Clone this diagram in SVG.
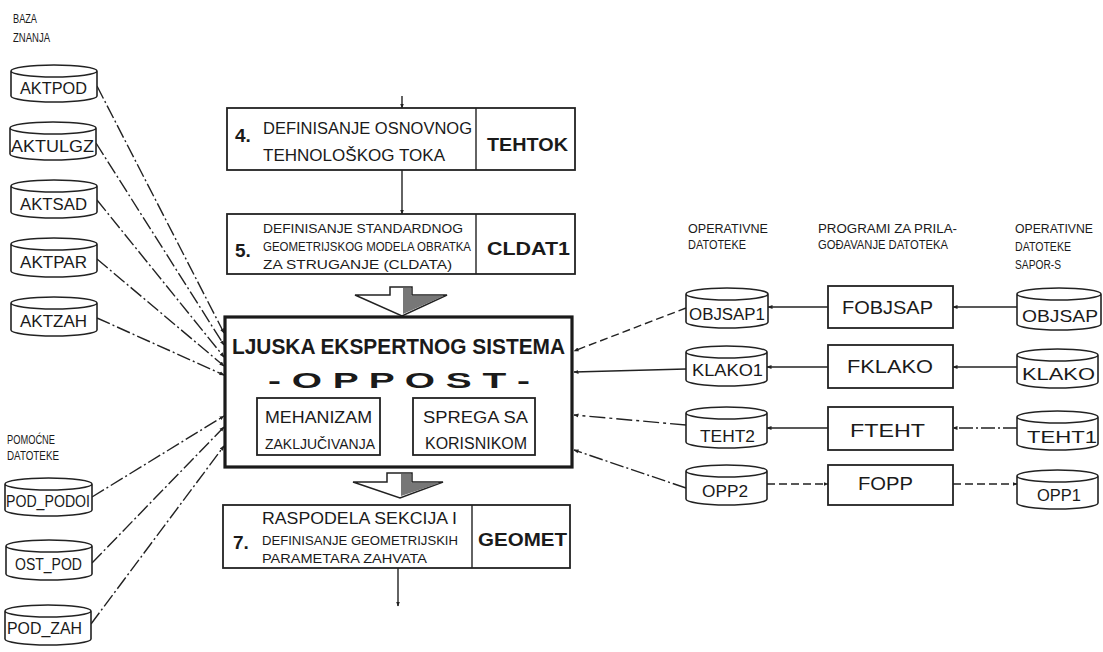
<svg xmlns="http://www.w3.org/2000/svg" width="1103" height="652" viewBox="0 0 1103 652">
<style>
.bg{fill:#fff}
.cyl{fill:#fff;stroke:#222;stroke-width:1.6}
.box{fill:#fff;stroke:#222;stroke-width:1.8}
.main{fill:#fff;stroke:#1a1a1a;stroke-width:3.2}
.t{font-family:"Liberation Sans",Arial,sans-serif;fill:#1a1a1a}
.lbl{font-size:12.5px}
.cl{font-size:17px}
.bt{font-size:16px}
.num{font-size:19px;font-weight:bold}
.code{font-size:18px;font-weight:bold}
.ln{fill:none;stroke:#222;stroke-width:1.4}
.dd{stroke-dasharray:14 3 2 3}
.da{stroke-dasharray:8 4}
.dot{stroke-dasharray:16 4 3 4}
.ar{fill:none;stroke:#222;stroke-width:1.5}
</style>
<defs>
<marker id="ah" viewBox="0 0 10 10" refX="9" refY="5" markerWidth="5" markerHeight="5" orient="auto" markerUnits="userSpaceOnUse">
<path d="M0,1 L10,5 L0,9 Z" fill="#222"/>
</marker>
</defs>
<rect class="bg" x="0" y="0" width="1103" height="652"/>

<!-- section labels -->
<g id="labels">
<text class="t lbl" x="13" y="23" textLength="24" lengthAdjust="spacingAndGlyphs">BAZA</text>
<text class="t lbl" x="13" y="42" textLength="37" lengthAdjust="spacingAndGlyphs">ZNANJA</text>
<text class="t lbl" x="7" y="444" textLength="48" lengthAdjust="spacingAndGlyphs">POMOĆNE</text>
<text class="t lbl" x="7" y="460" textLength="52" lengthAdjust="spacingAndGlyphs">DATOTEKE</text>
<text class="t lbl" x="688" y="233" textLength="80" lengthAdjust="spacingAndGlyphs">OPERATIVNE</text>
<text class="t lbl" x="688" y="249" textLength="58" lengthAdjust="spacingAndGlyphs">DATOTEKE</text>
<text class="t lbl" x="818" y="233" textLength="139" lengthAdjust="spacingAndGlyphs">PROGRAMI ZA PRILA-</text>
<text class="t lbl" x="818" y="249" textLength="130" lengthAdjust="spacingAndGlyphs">GOĐAVANJE DATOTEKA</text>
<text class="t lbl" x="1015" y="233" textLength="78" lengthAdjust="spacingAndGlyphs">OPERATIVNE</text>
<text class="t lbl" x="1015" y="251" textLength="56" lengthAdjust="spacingAndGlyphs">DATOTEKE</text>
<text class="t lbl" x="1015" y="269" textLength="46" lengthAdjust="spacingAndGlyphs">SAPOR-S</text>
</g>

<!-- connectors -->
<g id="connectors">
<line class="ln dd" x1="97" y1="86" x2="224" y2="333" marker-end="url(#ah)"/>
<line class="ln dd" x1="96" y1="143" x2="224" y2="345" marker-end="url(#ah)"/>
<line class="ln dd" x1="97" y1="200" x2="224" y2="357" marker-end="url(#ah)"/>
<line class="ln dd" x1="97" y1="259" x2="224" y2="366" marker-end="url(#ah)"/>
<line class="ln dd" x1="97" y1="318" x2="224" y2="375" marker-end="url(#ah)"/>
<line class="ln dd" x1="92" y1="497" x2="224" y2="416" marker-end="url(#ah)"/>
<line class="ln dd" x1="92" y1="563" x2="224" y2="427" marker-end="url(#ah)"/>
<line class="ln dd" x1="91" y1="624" x2="224" y2="446" marker-end="url(#ah)"/>

<line class="ln da" x1="686" y1="308" x2="574" y2="351" marker-end="url(#ah)"/>
<line class="ln" x1="686" y1="369" x2="574" y2="372" marker-end="url(#ah)"/>
<line class="ln dot" x1="686" y1="425" x2="574" y2="415" marker-end="url(#ah)"/>
<line class="ln dd" x1="686" y1="488" x2="574" y2="450" marker-end="url(#ah)"/>

<line class="ln" x1="828" y1="307" x2="768" y2="307" marker-end="url(#ah)"/>
<line class="ln" x1="1017" y1="307" x2="953" y2="307" marker-end="url(#ah)"/>
<line class="ln" x1="828" y1="367" x2="767" y2="367" marker-end="url(#ah)"/>
<line class="ln" x1="1017" y1="367" x2="953" y2="367" marker-end="url(#ah)"/>
<line class="ln" x1="828" y1="428" x2="767" y2="428" marker-end="url(#ah)"/>
<line class="ln dd" x1="1017" y1="428" x2="953" y2="428" marker-end="url(#ah)"/>
<line class="ln da" x1="767" y1="484" x2="828" y2="484" marker-end="url(#ah)"/>
<line class="ln da" x1="953" y1="484" x2="1017" y2="484" marker-end="url(#ah)"/>

<line class="ln" x1="402" y1="96" x2="402" y2="108" marker-end="url(#ah)"/>
<line class="ln" x1="402" y1="170" x2="402" y2="214" marker-end="url(#ah)"/>
<line class="ln" x1="398" y1="568" x2="398" y2="606" marker-end="url(#ah)"/>

<polygon class="ar" fill="#fff" points="390,287 412,287 412,295 447,295 402,316 355,295 390,295"/>
<polygon fill="#777" points="403,288 411,288 411,296 444,296 403,314"/>
<polygon class="ar" fill="#fff" points="387,473 412,473 412,482 443,482 400,498 353,482 387,482"/>
<polygon fill="#777" points="401,474 411,474 411,483 440,483 401,496"/>
</g>

<!-- left cylinders -->
<g id="aktpod"><path class="cyl" d="M11,71 A43,6 0 0 1 97,71 L97,96 A43,6 0 0 1 11,96 Z M11,71 A43,6 0 0 0 97,71"/><text class="t cl" x="20" y="94" textLength="67" lengthAdjust="spacingAndGlyphs">AKTPOD</text></g>
<g id="aktulgz"><path class="cyl" d="M10,128 A43,6 0 0 1 96,128 L96,154 A43,6 0 0 1 10,154 Z M10,128 A43,6 0 0 0 96,128"/><text class="t cl" x="11" y="152" textLength="83" lengthAdjust="spacingAndGlyphs">AKTULGZ</text></g>
<g id="aktsad"><path class="cyl" d="M11,186 A43,6 0 0 1 97,186 L97,212 A43,6 0 0 1 11,212 Z M11,186 A43,6 0 0 0 97,186"/><text class="t cl" x="20" y="210" textLength="67" lengthAdjust="spacingAndGlyphs">AKTSAD</text></g>
<g id="aktpar"><path class="cyl" d="M11,244 A43,6 0 0 1 97,244 L97,271 A43,6 0 0 1 11,271 Z M11,244 A43,6 0 0 0 97,244"/><text class="t cl" x="20" y="268" textLength="67" lengthAdjust="spacingAndGlyphs">AKTPAR</text></g>
<g id="aktzah"><path class="cyl" d="M11,303 A43,6 0 0 1 97,303 L97,330 A43,6 0 0 1 11,330 Z M11,303 A43,6 0 0 0 97,303"/><text class="t cl" x="20" y="327" textLength="67" lengthAdjust="spacingAndGlyphs">AKTZAH</text></g>
<g id="pod_podoi"><path class="cyl" d="M5,484 A43.5,6 0 0 1 92,484 L92,510 A43.5,6 0 0 1 5,510 Z M5,484 A43.5,6 0 0 0 92,484"/><text class="t bt" x="6" y="507" textLength="84" lengthAdjust="spacingAndGlyphs">POD_PODOI</text></g>
<g id="ost_pod"><path class="cyl" d="M6,546 A43,6 0 0 1 92,546 L92,574 A43,6 0 0 1 6,574 Z M6,546 A43,6 0 0 0 92,546"/><text class="t bt" x="15" y="570" textLength="67" lengthAdjust="spacingAndGlyphs">OST_POD</text></g>
<g id="pod_zah"><path class="cyl" d="M5,611 A43,6 0 0 1 91,611 L91,639 A43,6 0 0 1 5,639 Z M5,611 A43,6 0 0 0 91,611"/><text class="t bt" x="7" y="634" textLength="75" lengthAdjust="spacingAndGlyphs">POD_ZAH</text></g>

<!-- center column -->
<g id="box4">
<rect class="box" x="227" y="108" width="348" height="62"/>
<line class="ln" x1="476" y1="108" x2="476" y2="170"/>
<text class="t num" x="235" y="142">4.</text>
<text class="t" font-size="16" x="263" y="134" textLength="209" lengthAdjust="spacingAndGlyphs">DEFINISANJE OSNOVNOG</text>
<text class="t" font-size="16" x="263" y="161" textLength="182" lengthAdjust="spacingAndGlyphs">TEHNOLOŠKOG TOKA</text>
<text class="t code" x="487" y="151" textLength="81" lengthAdjust="spacingAndGlyphs">TEHTOK</text>
</g>
<g id="box5">
<rect class="box" x="227" y="214" width="348" height="60"/>
<line class="ln" x1="476" y1="214" x2="476" y2="274"/>
<text class="t num" x="235" y="257">5.</text>
<text class="t" font-size="13.5" x="263" y="233" textLength="200" lengthAdjust="spacingAndGlyphs">DEFINISANJE STANDARDNOG</text>
<text class="t" font-size="12" x="263" y="251" textLength="208" lengthAdjust="spacingAndGlyphs">GEOMETRIJSKOG MODELA OBRATKA</text>
<text class="t" font-size="13.5" x="263" y="269" textLength="189" lengthAdjust="spacingAndGlyphs">ZA STRUGANJE (CLDATA)</text>
<text class="t code" x="487" y="255" textLength="83" lengthAdjust="spacingAndGlyphs">CLDAT1</text>
</g>
<g id="oppost">
<rect class="main" x="225" y="317" width="347" height="150"/>
<text class="t" font-size="22" font-weight="bold" x="232" y="354" textLength="333" lengthAdjust="spacingAndGlyphs">LJUSKA EKSPERTNOG SISTEMA</text>
<text class="t" font-size="22" font-weight="bold" x="268" y="388" textLength="262" lengthAdjust="spacingAndGlyphs">- O P P O S T -</text>
<rect class="box" x="257" y="398" width="123" height="57"/>
<text class="t" font-size="16" x="265" y="423" textLength="107" lengthAdjust="spacingAndGlyphs">MEHANIZAM</text>
<text class="t" font-size="15" x="265" y="449" textLength="110" lengthAdjust="spacingAndGlyphs">ZAKLJUČIVANJA</text>
<rect class="box" x="413" y="398" width="122" height="57"/>
<text class="t" font-size="16" x="423" y="423" textLength="105" lengthAdjust="spacingAndGlyphs">SPREGA SA</text>
<text class="t" font-size="16" x="425" y="449" textLength="102" lengthAdjust="spacingAndGlyphs">KORISNIKOM</text>
</g>
<g id="box7">
<rect class="box" x="223" y="505" width="347" height="63"/>
<line class="ln" x1="472" y1="505" x2="472" y2="568"/>
<text class="t num" x="233" y="549">7.</text>
<text class="t" font-size="16" x="262" y="524" textLength="195" lengthAdjust="spacingAndGlyphs">RASPODELA SEKCIJA I</text>
<text class="t" font-size="12.5" x="262" y="545" textLength="196" lengthAdjust="spacingAndGlyphs">DEFINISANJE GEOMETRIJSKIH</text>
<text class="t" font-size="13.5" x="262" y="563" textLength="165" lengthAdjust="spacingAndGlyphs">PARAMETARA ZAHVATA</text>
<text class="t code" x="478" y="546" textLength="89" lengthAdjust="spacingAndGlyphs">GEOMET</text>
</g>

<!-- right column 1 cylinders -->
<g id="objsap1"><path class="cyl" d="M686,294 A41,6 0 0 1 768,294 L768,322 A41,6 0 0 1 686,322 Z M686,294 A41,6 0 0 0 768,294"/><text class="t" font-size="16" x="689" y="320" textLength="76" lengthAdjust="spacingAndGlyphs">OBJSAP1</text></g>
<g id="klako1"><path class="cyl" d="M686,352 A40.5,6 0 0 1 767,352 L767,380 A40.5,6 0 0 1 686,380 Z M686,352 A40.5,6 0 0 0 767,352"/><text class="t" font-size="17" x="692" y="376" textLength="71" lengthAdjust="spacingAndGlyphs">KLAKO1</text></g>
<g id="teht2"><path class="cyl" d="M686,413 A40.5,6 0 0 1 767,413 L767,442 A40.5,6 0 0 1 686,442 Z M686,413 A40.5,6 0 0 0 767,413"/><text class="t" font-size="17" x="700" y="442" textLength="55" lengthAdjust="spacingAndGlyphs">TEHT2</text></g>
<g id="opp2"><path class="cyl" d="M686,471 A40.5,6 0 0 1 767,471 L767,499 A40.5,6 0 0 1 686,499 Z M686,471 A40.5,6 0 0 0 767,471"/><text class="t" font-size="17" x="702" y="497" textLength="46" lengthAdjust="spacingAndGlyphs">OPP2</text></g>

<!-- programs -->
<g id="fobjsap"><rect class="box" x="828" y="286" width="125" height="42"/><text class="t" font-size="19" x="842" y="314" textLength="91" lengthAdjust="spacingAndGlyphs">FOBJSAP</text></g>
<g id="fklako"><rect class="box" x="828" y="345" width="125" height="43"/><text class="t" font-size="19" x="847" y="373" textLength="86" lengthAdjust="spacingAndGlyphs">FKLAKO</text></g>
<g id="fteht"><rect class="box" x="828" y="407" width="125" height="43"/><text class="t" font-size="19" x="850" y="437" textLength="75" lengthAdjust="spacingAndGlyphs">FTEHT</text></g>
<g id="fopp"><rect class="box" x="828" y="465" width="125" height="40"/><text class="t" font-size="19" x="858" y="490" textLength="55" lengthAdjust="spacingAndGlyphs">FOPP</text></g>

<!-- right column 3 cylinders -->
<g id="objsap"><path class="cyl" d="M1017,294 A42,6 0 0 1 1101,294 L1101,324 A42,6 0 0 1 1017,324 Z M1017,294 A42,6 0 0 0 1101,294"/><text class="t" font-size="17" x="1022" y="322" textLength="76" lengthAdjust="spacingAndGlyphs">OBJSAP</text></g>
<g id="klako"><path class="cyl" d="M1017,355 A40.5,6 0 0 1 1098,355 L1098,382 A40.5,6 0 0 1 1017,382 Z M1017,355 A40.5,6 0 0 0 1098,355"/><text class="t" font-size="17" x="1022" y="380" textLength="73" lengthAdjust="spacingAndGlyphs">KLAKO</text></g>
<g id="teht1"><path class="cyl" d="M1017,417 A40.5,6 0 0 1 1098,417 L1098,444 A40.5,6 0 0 1 1017,444 Z M1017,417 A40.5,6 0 0 0 1098,417"/><text class="t" font-size="17" x="1027" y="443" textLength="70" lengthAdjust="spacingAndGlyphs">TEHT1</text></g>
<g id="opp1"><path class="cyl" d="M1017,476 A40.5,6 0 0 1 1098,476 L1098,503 A40.5,6 0 0 1 1017,503 Z M1017,476 A40.5,6 0 0 0 1098,476"/><text class="t" font-size="17" x="1037" y="501" textLength="44" lengthAdjust="spacingAndGlyphs">OPP1</text></g>
</svg>
